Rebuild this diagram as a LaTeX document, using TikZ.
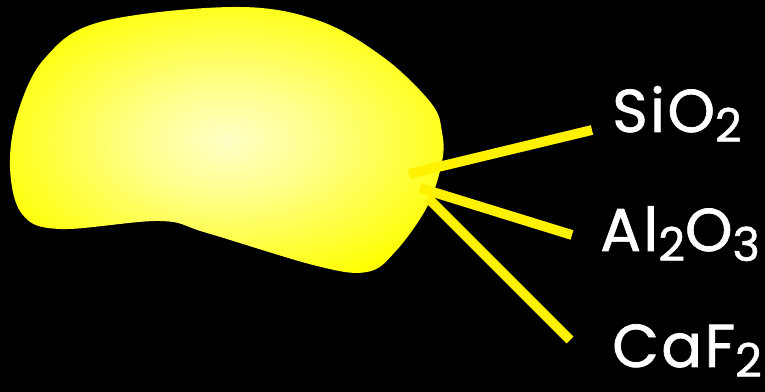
\documentclass[tikz,border=0pt]{standalone}
\usepackage{fontspec}
\setmainfont{Poppins}
\newfontfamily\chemfont{Poppins}[FakeBold=1.2, LetterSpace=4]
\usetikzlibrary{positioning,calc}
\pgfdeclareradialshading{grainglow}{\pgfpoint{0bp}{0bp}}{%
  color(0bp)=(yellow!22!white); color(10bp)=(yellow!45!white);
  color(29bp)=(yellow); color(50bp)=(yellow)}
\newcommand{\chemsub}[1]{\raisebox{-7pt}{\fontsize{33}{34}\selectfont #1}}
\begin{document}
\begin{tikzpicture}[
  x=0.025cm, y=-0.025cm,
  blob/.style={shading=grainglow},
  bond/.style={draw=yellow, line width=7pt},
  chem/.style={text=white, font=\chemfont\fontsize{43}{48}\selectfont, inner sep=0pt, anchor=base west}
]
% background
\fill[black] (0,0) rectangle (765,392);
\useasboundingbox (0,0) rectangle (765,392);

% grain
\path[blob] plot[smooth cycle, tension=0.6] coordinates {
  (233,7) (317,20) (383,57) (431,103) (442,132) (442,162) (427,207)
  (395,252) (367,272) (317,266) (207,233) (160,221) (60,229) (22,214)
  (10,167) (18,112) (45,58) (100,22)};

% labels
\node[chem] (SiO) at (612,132) {SiO\chemsub{2}};
\node[chem] (AlO) at (600,251) {Al\chemsub{2}O\chemsub{3}};
\node[chem] (CaF) at (612,367) {CaF\chemsub{2}};

% bonds
\coordinate (s1) at (409,174);
\coordinate (s2) at (420,188);
\coordinate (s3) at (428,198);
\coordinate (e1) at (592,130);
\coordinate (e2) at (572,235);
\coordinate (e3) at (570,340);
\draw[bond] (s1) -- (e1);
\draw[bond] (s2) -- (e2);
\draw[bond] (s3) -- (e3);
\end{tikzpicture}
\end{document}
